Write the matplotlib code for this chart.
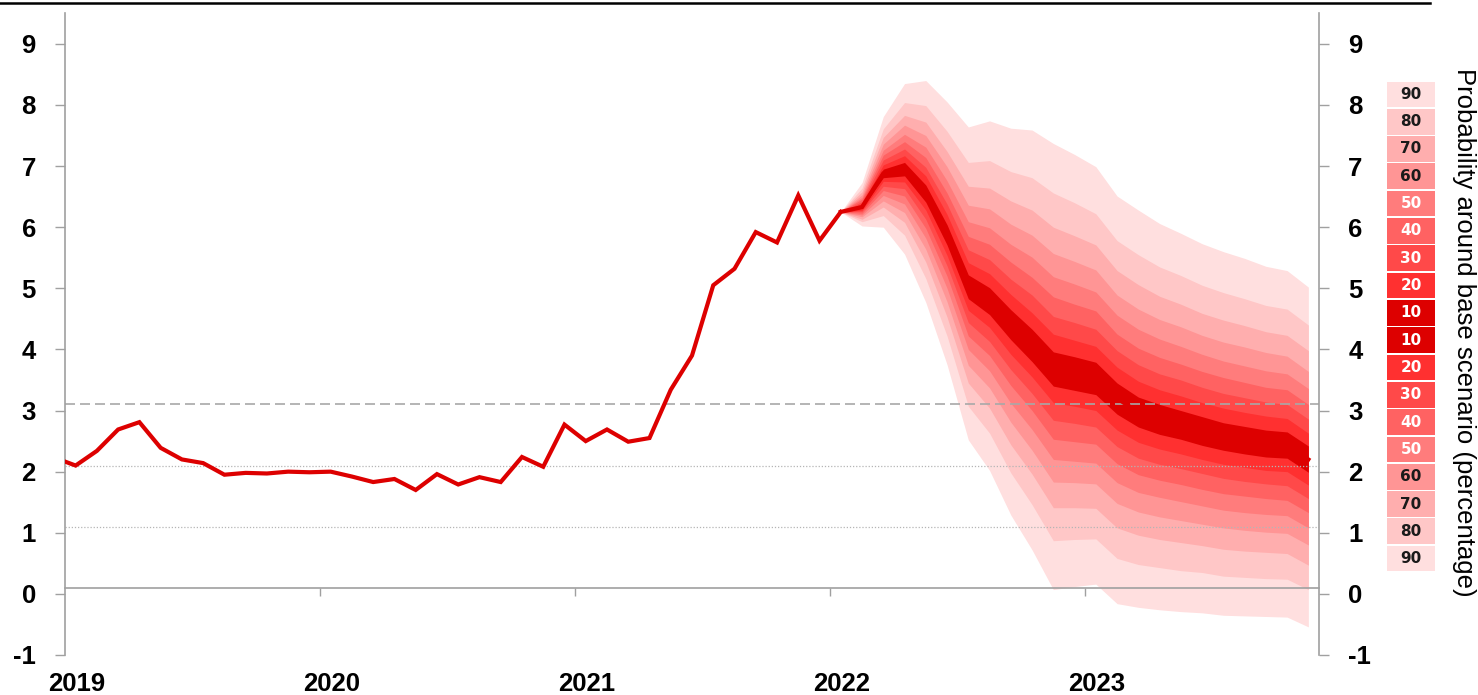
import numpy as np
import matplotlib
matplotlib.use("Agg")
import matplotlib.pyplot as plt
from matplotlib.lines import Line2D

plt.rcParams['font.family'] = ['Liberation Sans', 'DejaVu Sans']
plt.rcParams['font.weight'] = 'bold'
plt.rcParams['axes.unicode_minus'] = False

# ---------------- data ----------------
years = ['2019', '2020', '2021', '2022', '2023']

# monthly history, Dec 2018 .. Jan 2022
history = [2.23,
           2.10, 2.34, 2.69, 2.81, 2.39, 2.20, 2.14, 1.95, 1.98, 1.97, 2.00, 1.99,
           2.00, 1.92, 1.83, 1.88, 1.70, 1.96, 1.79, 1.91, 1.83, 2.24, 2.08, 2.77,
           2.50, 2.69, 2.49, 2.55, 3.34, 3.90, 5.05, 5.32, 5.92, 5.75, 6.52, 5.78,
           6.25]

# base scenario, Jan 2022 .. Nov 2023
central = [6.25, 6.33, 6.88, 6.95, 6.55, 5.87, 5.02, 4.78, 4.40, 4.06, 3.68, 3.60,
           3.52, 3.20, 2.97, 2.85, 2.76, 2.66, 2.57, 2.51, 2.46, 2.43, 2.20]

up10 = [6.25, 6.36, 6.95, 7.06, 6.69, 6.04, 5.22, 5.01, 4.65, 4.33, 3.96, 3.88, 3.79, 3.45, 3.22, 3.10, 3.00, 2.90, 2.80, 2.74, 2.68, 2.65, 2.42]
up20 = [6.25, 6.39, 7.02, 7.17, 6.84, 6.21, 5.42, 5.24, 4.90, 4.60, 4.25, 4.15, 4.05, 3.71, 3.48, 3.34, 3.24, 3.13, 3.04, 2.97, 2.91, 2.87, 2.63]
up30 = [6.25, 6.42, 7.10, 7.28, 6.98, 6.38, 5.63, 5.47, 5.15, 4.89, 4.54, 4.44, 4.33, 3.98, 3.75, 3.60, 3.50, 3.38, 3.28, 3.21, 3.14, 3.10, 2.86]
up40 = [6.25, 6.46, 7.18, 7.40, 7.14, 6.56, 5.85, 5.72, 5.43, 5.18, 4.86, 4.74, 4.63, 4.25, 4.02, 3.87, 3.76, 3.64, 3.54, 3.46, 3.38, 3.34, 3.10]
up50 = [6.25, 6.49, 7.26, 7.52, 7.31, 6.76, 6.09, 5.99, 5.72, 5.51, 5.19, 5.07, 4.94, 4.56, 4.33, 4.17, 4.05, 3.92, 3.81, 3.73, 3.65, 3.60, 3.36]
up60 = [6.25, 6.53, 7.36, 7.67, 7.50, 6.99, 6.36, 6.30, 6.05, 5.87, 5.57, 5.44, 5.30, 4.89, 4.66, 4.49, 4.37, 4.23, 4.12, 4.04, 3.95, 3.89, 3.64]
up70 = [6.25, 6.58, 7.47, 7.83, 7.72, 7.24, 6.67, 6.64, 6.43, 6.28, 6.00, 5.86, 5.71, 5.29, 5.06, 4.87, 4.74, 4.59, 4.48, 4.39, 4.29, 4.23, 3.98]
up80 = [6.25, 6.64, 7.61, 8.04, 7.99, 7.57, 7.06, 7.09, 6.91, 6.81, 6.56, 6.40, 6.22, 5.78, 5.55, 5.35, 5.21, 5.05, 4.93, 4.83, 4.72, 4.66, 4.40]
up90 = [6.25, 6.73, 7.81, 8.35, 8.40, 8.05, 7.64, 7.74, 7.62, 7.59, 7.37, 7.19, 6.99, 6.51, 6.28, 6.06, 5.90, 5.73, 5.60, 5.49, 5.36, 5.29, 5.02]

lo10 = [6.25, 6.31, 6.81, 6.84, 6.41, 5.71, 4.83, 4.57, 4.16, 3.80, 3.40, 3.33, 3.26, 2.94, 2.73, 2.61, 2.53, 2.43, 2.35, 2.29, 2.24, 2.22, 1.99]
lo20 = [6.25, 6.28, 6.75, 6.74, 6.28, 5.54, 4.64, 4.36, 3.92, 3.55, 3.13, 3.07, 3.00, 2.68, 2.48, 2.37, 2.29, 2.20, 2.12, 2.07, 2.02, 2.00, 1.78]
lo30 = [6.25, 6.26, 6.67, 6.63, 6.13, 5.37, 4.44, 4.13, 3.67, 3.28, 2.84, 2.79, 2.73, 2.41, 2.22, 2.12, 2.05, 1.97, 1.89, 1.84, 1.80, 1.77, 1.56]
lo40 = [6.25, 6.23, 6.60, 6.51, 5.98, 5.20, 4.22, 3.90, 3.41, 3.00, 2.53, 2.49, 2.45, 2.13, 1.95, 1.86, 1.79, 1.71, 1.64, 1.60, 1.56, 1.53, 1.33]
lo50 = [6.25, 6.20, 6.52, 6.38, 5.82, 5.00, 4.00, 3.65, 3.12, 2.69, 2.20, 2.17, 2.14, 1.82, 1.66, 1.58, 1.51, 1.44, 1.37, 1.33, 1.30, 1.28, 1.08]
lo60 = [6.25, 6.17, 6.43, 6.24, 5.64, 4.78, 3.74, 3.37, 2.81, 2.35, 1.83, 1.82, 1.80, 1.48, 1.34, 1.26, 1.20, 1.14, 1.08, 1.04, 1.01, 0.99, 0.80]
lo70 = [6.25, 6.13, 6.33, 6.08, 5.43, 4.53, 3.45, 3.04, 2.44, 1.96, 1.41, 1.41, 1.40, 1.08, 0.96, 0.89, 0.84, 0.79, 0.73, 0.70, 0.68, 0.66, 0.47]
lo80 = [6.25, 6.09, 6.19, 5.87, 5.16, 4.22, 3.07, 2.63, 1.98, 1.46, 0.87, 0.89, 0.90, 0.58, 0.48, 0.43, 0.38, 0.35, 0.29, 0.27, 0.25, 0.24, 0.07]
lo90 = [6.25, 6.02, 6.00, 5.56, 4.77, 3.75, 2.52, 2.02, 1.29, 0.72, 0.07, 0.12, 0.16, -0.16, -0.22, -0.26, -0.29, -0.31, -0.35, -0.36, -0.37, -0.38, -0.54]

band_labels = ['90', '80', '70', '60', '50', '40', '30', '20', '10']
band_colors = ['#FFDFDF', '#FFC7C7', '#FFAEAE', '#FF9595', '#FF7C7C',
               '#FF6262', '#FF4949', '#FF3030', '#DD0000']
legend_labels = band_labels + band_labels[::-1]
legend_colors = band_colors + band_colors[::-1]
legend_text_colors = ['#1a1a1a'] * 4 + ['white'] * 10 + ['#1a1a1a'] * 4

line_color = '#DD0000'

# ---------------- figure ----------------
W, H = 1478, 695
fig = plt.figure(figsize=(W / 100, H / 100), dpi=100)
ax = fig.add_axes([65 / W, 40 / H, (1319 - 65) / W, (681.7 - 40) / H])

# month positions (0 = start of Jan 2019, points at mid-month)
x_hist = np.arange(len(history)) - 0.5
x_fc = np.arange(len(central)) + 36.5

uppers = [up90, up80, up70, up60, up50, up40, up30, up20, up10]
lowers = [lo90, lo80, lo70, lo60, lo50, lo40, lo30, lo20, lo10]
for u, l, c in zip(uppers, lowers, band_colors):
    ax.fill_between(x_fc, l, u, color=c, lw=0, zorder=1)

# reference lines
ax.axhline(3.1, color='#a8a8a8', lw=1.2, linestyle=(0, (6, 3)), zorder=2)
ax.axhline(2.1, color='#b5b5b5', lw=0.9, linestyle=(0, (1, 1.5)), zorder=2)
ax.axhline(1.1, color='#b5b5b5', lw=0.9, linestyle=(0, (1, 1.5)), zorder=2)

# history + base scenario line
ax.plot(x_hist, history, color=line_color, lw=3, zorder=3, solid_joinstyle='miter')
ax.plot(x_fc, central, color=line_color, lw=3, zorder=3, solid_joinstyle='miter')

ax.set_xlim(0, 59)
ax.set_ylim(-1, 9.5)

# spines
ax.spines['top'].set_visible(False)
for s in ['left', 'right', 'bottom']:
    ax.spines[s].set_color('#a0a0a0')
    ax.spines[s].set_linewidth(1.2)
ax.spines['bottom'].set_position(('data', 0.1))

ax.set_yticks(range(-1, 10))
ax.tick_params(axis='y', left=True, right=True, labelleft=True, labelright=True,
               direction='out', length=7, width=1, color='#a0a0a0',
               pad=14, labelsize=18.5)
ax.set_xticks([12, 24, 36, 48])
ax.tick_params(axis='x', direction='out', length=5.5, width=1, color='#a0a0a0',
               labelbottom=False)

for i, y in enumerate(years):
    ax.annotate(y, xy=(i * 12 + 0.55, 0), xycoords=ax.get_xaxis_transform(),
                xytext=(0, -20.8), textcoords='offset points',
                ha='center', va='center', fontsize=18.5, fontweight='bold')

# right axis title
fig.text(1464 / W, 1 - 332 / H, 'Probability around base scenario (percentage)',
         rotation=270, ha='center', va='center', fontsize=18.5,
         fontweight='normal')

# legend column
lax = fig.add_axes([1387 / W, 1 - 572.3 / H, 48 / W, 491.6 / H])
pos = np.arange(len(legend_labels))[::-1]
lax.barh(pos, 1, height=0.94, color=legend_colors, left=0)
for p, t, tc in zip(pos, legend_labels, legend_text_colors):
    lax.text(0.5, p, t, ha='center', va='center', color=tc, fontsize=11,
             fontweight='bold', family='DejaVu Sans')
lax.set_xlim(0, 1)
lax.set_ylim(-0.5, len(legend_labels) - 0.5)
lax.axis('off')

# top rule
fig.add_artist(Line2D([0, 1430 / W], [1 - 2.5 / H] * 2, transform=fig.transFigure,
                      color='black', lw=1.8))

fig.savefig('out.png', dpi=100)
